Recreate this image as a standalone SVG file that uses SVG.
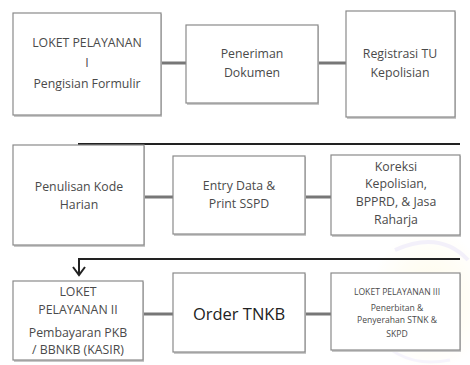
<svg xmlns="http://www.w3.org/2000/svg" width="470" height="365" viewBox="0 0 470 365">
<defs>
<style>
.box{fill:#fff;stroke:#8a8a8a;stroke-width:1.2}
.sh{fill:#c8c8c8}
.t{font-family:"Open Sans","Liberation Sans",sans-serif;font-size:12.3px;fill:#4a4a4a;text-anchor:middle}
.s{font-size:8.6px}
.big{font-size:16.5px;fill:#222}
.c{stroke:#777;stroke-width:3;fill:none}
.f{stroke:#222;stroke-width:2;fill:none}
</style>
<radialGradient id="wm" cx="0.5" cy="0.5" r="0.5">
<stop offset="0" stop-color="#fff6c0" stop-opacity="0.9"/>
<stop offset="1" stop-color="#fff6c0" stop-opacity="0"/>
</radialGradient>
</defs>
<rect width="470" height="365" fill="#fff"/>
<g id="watermark" opacity="0.4">
<ellipse cx="430" cy="300" rx="60" ry="70" fill="url(#wm)"/>
<path d="M395 250 Q440 230 468 260" stroke="#e2dcf4" stroke-width="4" fill="none"/>
<path d="M372 330 Q400 370 450 360" stroke="#ebe6f8" stroke-width="3" fill="none"/>
</g>
<g id="connectors">
<line class="c" x1="161" y1="63" x2="186" y2="63"/>
<line class="c" x1="318" y1="63" x2="346" y2="63"/>
<path class="f" d="M79 146 V144 H460"/>
<line class="c" x1="144" y1="197" x2="173" y2="197"/>
<line class="c" x1="305" y1="197" x2="331" y2="197"/>
<path class="f" d="M460 259 H79 V275"/>
<path class="f" d="M73 267 L79 275 L85 267"/>
<line class="c" x1="143" y1="314" x2="173" y2="314"/>
<line class="c" x1="305" y1="314" x2="331" y2="314"/>
</g>
<g id="n1"><rect class="sh" x="14" y="14" width="148" height="103"/><rect class="box" x="13" y="13" width="148" height="102"/>
<text class="t" x="87" y="47">LOKET PELAYANAN</text><text class="t" x="87" y="67">I</text><text class="t" x="87" y="88">Pengisian Formulir</text></g>
<g id="n2"><rect class="sh" x="187" y="26" width="132" height="79"/><rect class="box" x="186" y="25" width="132" height="78"/>
<text class="t" x="252" y="58">Peneriman</text><text class="t" x="252" y="77">Dokumen</text></g>
<g id="n3"><rect class="sh" x="347" y="12" width="109" height="107"/><rect class="box" x="346" y="11" width="109" height="106"/>
<text class="t" x="400" y="58">Registrasi TU</text><text class="t" x="400" y="77">Kepolisian</text></g>
<g id="n4"><rect class="sh" x="14" y="146" width="131" height="101"/><rect class="box" x="13" y="145" width="131" height="100"/>
<text class="t" x="79" y="191">Penulisan Kode</text><text class="t" x="79" y="209">Harian</text></g>
<g id="n5"><rect class="sh" x="174" y="157" width="132" height="79"/><rect class="box" x="173" y="156" width="132" height="78"/>
<text class="t" x="239" y="190">Entry Data &amp;</text><text class="t" x="239" y="208">Print SSPD</text></g>
<g id="n6"><rect class="sh" x="332" y="156" width="129" height="81"/><rect class="box" x="331" y="155" width="129" height="80"/>
<text class="t" x="396" y="171">Koreksi</text><text class="t" x="396" y="188">Kepolisian,</text><text class="t" x="396" y="206">BPPRD, &amp; Jasa</text><text class="t" x="396" y="224">Raharja</text></g>
<g id="n7"><rect class="sh" x="14" y="282" width="130" height="80"/><rect class="box" x="13" y="281" width="130" height="79"/>
<text class="t" x="78" y="296">LOKET</text><text class="t" x="78" y="314">PELAYANAN II</text><text class="t" x="78" y="337">Pembayaran PKB</text><text class="t" x="78" y="354">/ BBNKB (KASIR)</text></g>
<g id="n8"><rect class="sh" x="174" y="274" width="132" height="80"/><rect class="box" x="173" y="273" width="132" height="79"/>
<text class="t big" x="239" y="320">Order TNKB</text></g>
<g id="n9"><rect class="sh" x="332" y="274" width="129" height="78"/><rect class="box" x="331" y="273" width="129" height="77"/>
<text class="t s" x="397" y="295">LOKET PELAYANAN III</text><text class="t s" x="397" y="311">Penerbitan &amp;</text><text class="t s" x="397" y="323">Penyerahan STNK &amp;</text><text class="t s" x="397" y="337">SKPD</text></g>
</svg>
